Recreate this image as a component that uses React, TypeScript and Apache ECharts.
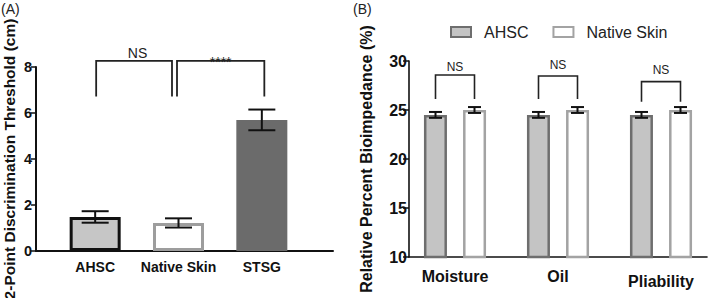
import React, { useEffect, useRef } from 'react';
import * as echarts from 'echarts';

// ---------- Panel A data ----------
const groupsA = ['AHSC', 'Native Skin', 'STSG'];
const meansA = [1.48, 1.22, 5.7];
const semA = [0.25, 0.2, 0.45];
const yMinA = 0;
const yMaxA = 8;
const yStepA = 2;
const bracketFromA = [0, 1];
const bracketToA = [1, 2];
const bracketTopA = [8.27, 8.27];
const bracketBottomA = [6.72, 6.72];
const bracketLabelA = ['NS', '****'];

// ---------- Panel B data ----------
const measuresB = ['Moisture', 'Oil', 'Pliability'];
const ahscB = [24.5, 24.5, 24.5];
const ahscSemB = [0.3, 0.3, 0.3];
const nativeB = [25.0, 25.0, 25.0];
const nativeSemB = [0.3, 0.3, 0.3];
const yMinB = 10;
const yMaxB = 30;
const yStepB = 5;
const bracketTopB = [28.57, 28.47, 27.9];
const bracketBottomB = [26.12, 26.12, 25.85];
const bracketLabelB = ['NS', 'NS', 'NS'];

const FONT = '"Liberation Sans", Arial, Helvetica, sans-serif';

// layout constants (pixels)
const legOffsetA = [
  [1, -6.5],
  [-1.5, 2.5],
];
const labelOffsetA = [
  [3.5, -8],
  [0, 1.5],
];
const labelSizeA = [14, 14];
const barHalfOffsetB = 19.5;

export default function App() {
  const ref = useRef<HTMLDivElement>(null);

  useEffect(() => {
    if (!ref.current) return;
    const chart = echarts.init(ref.current, null, { renderer: 'svg' });

    const errorRender = (offset: number, capHalf: number, lw: number) => (params: any, api: any) => {
      const lo = api.coord([api.value(0), api.value(1)]);
      const hi = api.coord([api.value(0), api.value(2)]);
      const x = lo[0] + offset;
      const st = { stroke: '#111', lineWidth: lw, fill: 'none' };
      return {
        type: 'group',
        children: [
          { type: 'line', shape: { x1: x, y1: lo[1], x2: x, y2: hi[1] }, style: st },
          { type: 'line', shape: { x1: x - capHalf, y1: lo[1], x2: x + capHalf, y2: lo[1] }, style: st },
          { type: 'line', shape: { x1: x - capHalf, y1: hi[1], x2: x + capHalf, y2: hi[1] }, style: st },
        ],
      };
    };

    const bracketRender =
      (labels: string[], legOff: number[][], labOff: number[][], sizes: number[], lw: number) =>
      (params: any, api: any) => {
        const i = params.dataIndex;
        const l = api.coord([api.value(0), api.value(2)]);
        const r = api.coord([api.value(1), api.value(2)]);
        const b = api.coord([api.value(0), api.value(3)]);
        const xl = l[0] + legOff[i][0];
        const xr = r[0] + legOff[i][1];
        const yt = l[1];
        const yb = b[1];
        return {
          type: 'group',
          children: [
            {
              type: 'polyline',
              shape: { points: [[xl, yb], [xl, yt], [xr, yt], [xr, yb]] },
              style: { stroke: '#222', lineWidth: lw, fill: 'none' },
            },
            {
              type: 'text',
              x: (xl + xr) / 2 + labOff[i][0],
              y: yt + labOff[i][1],
              style: {
                text: labels[i],
                fontFamily: FONT,
                fontSize: sizes[i],
                fill: '#222',
                align: 'center',
                verticalAlign: 'middle',
              },
            },
          ],
        };
      };

    const itemStylesA = [
      { color: '#c6c6c6', borderColor: '#111', borderWidth: 3 },
      { color: '#ffffff', borderColor: '#9d9d9d', borderWidth: 3 },
      { color: '#6b6b6b', borderColor: '#6b6b6b', borderWidth: 3 },
    ];

    const legOffsetB = measuresB.map(() => [-barHalfOffsetB, barHalfOffsetB]);
    const labelOffsetB = [
      [0, -8.5],
      [0, -11],
      [0, -12],
    ];
    const labelSizeB = measuresB.map(() => 12);

    const gridBase = { outerBoundsMode: 'none', containLabel: false };

    const option: any = {
      animation: false,
      textStyle: { fontFamily: FONT },
      legend: {
        data: ['AHSC', 'Native Skin'],
        left: 450,
        top: 24,
        padding: 0,
        itemWidth: 20,
        itemHeight: 10,
        itemGap: 24,
        icon: 'rect',
        textStyle: { fontFamily: FONT, fontSize: 16, color: '#222', padding: [0, 0, 0, 8] },
      },
      graphic: [
        { type: 'text', left: 1, top: 2, style: { text: '(A)', fontFamily: FONT, fontSize: 14, fill: '#222' } },
        { type: 'text', left: 353, top: 2, style: { text: '(B)', fontFamily: FONT, fontSize: 14, fill: '#222' } },
      ],
      grid: [
        { ...gridBase, left: 36, top: 67, width: 297, height: 184 },
        { ...gridBase, left: 53.5, top: 67, width: 250, height: 184 },
        { ...gridBase, left: 409, top: 61, width: 298, height: 196 },
        { ...gridBase, left: 403.5, top: 61, width: 309, height: 196 },
      ],
      xAxis: [
        {
          gridIndex: 0,
          type: 'value',
          min: 0,
          max: 1,
          axisLine: { show: true, onZero: false, lineStyle: { color: '#111', width: 2 } },
          axisTick: { show: false },
          axisLabel: { show: false },
          splitLine: { show: false },
        },
        {
          gridIndex: 1,
          type: 'category',
          data: groupsA,
          axisLine: { show: false },
          axisTick: { show: false },
          axisLabel: { interval: 0, margin: 9, fontSize: 14, fontWeight: 'bold', color: '#111', fontFamily: FONT },
        },
        {
          gridIndex: 2,
          type: 'value',
          min: 0,
          max: 1,
          axisLine: { show: true, onZero: false, lineStyle: { color: '#111', width: 1.6 } },
          axisTick: { show: false },
          axisLabel: { show: false },
          splitLine: { show: false },
        },
        {
          gridIndex: 3,
          type: 'category',
          data: measuresB.map((m, i) =>
            i === 2 ? { value: m, textStyle: { padding: [5, 0, 0, 0] } } : m
          ),
          axisLine: { show: false },
          axisTick: { show: false },
          axisLabel: { interval: 0, margin: 11, fontSize: 16, fontWeight: 'bold', color: '#111', fontFamily: FONT },
        },
      ],
      yAxis: [
        {
          gridIndex: 0,
          type: 'value',
          min: yMinA,
          max: yMaxA,
          interval: yStepA,
          name: '2-Point Discrimination Threshold (cm)',
          nameLocation: 'middle',
          nameGap: 19,
          nameTextStyle: { fontSize: 15.5, fontWeight: 'bold', color: '#111', fontFamily: FONT },
          axisLine: { show: true, onZero: false, lineStyle: { color: '#111', width: 2 } },
          axisTick: { show: true, length: 5, lineStyle: { color: '#111', width: 1.5 } },
          axisLabel: { margin: 4, fontSize: 14.5, fontWeight: 'bold', color: '#111', fontFamily: FONT },
          splitLine: { show: false },
        },
        {
          gridIndex: 1,
          type: 'value',
          min: yMinA,
          max: yMaxA,
          show: false,
          splitLine: { show: false },
        },
        {
          gridIndex: 2,
          type: 'value',
          min: yMinB,
          max: yMaxB,
          interval: yStepB,
          name: 'Relative Percent Bioimpedance (%)',
          nameLocation: 'middle',
          nameGap: 35,
          nameTextStyle: { fontSize: 16, fontWeight: 'bold', color: '#111', fontFamily: FONT },
          axisLine: { show: true, onZero: false, lineStyle: { color: '#111', width: 1.6 } },
          axisTick: { show: true, length: 6, lineStyle: { color: '#111', width: 1.5 } },
          axisLabel: { margin: 2, fontSize: 16, fontWeight: 'bold', color: '#111', fontFamily: FONT },
          splitLine: { show: false },
        },
        {
          gridIndex: 3,
          type: 'value',
          min: yMinB,
          max: yMaxB,
          show: false,
          splitLine: { show: false },
        },
      ],
      series: [
        {
          name: 'Two-point',
          type: 'bar',
          xAxisIndex: 1,
          yAxisIndex: 1,
          barWidth: 51,
          data: meansA.map((v, i) => ({ value: v, itemStyle: itemStylesA[i] })),
          z: 2,
        },
        {
          type: 'custom',
          xAxisIndex: 1,
          yAxisIndex: 1,
          encode: { x: 0, y: [1, 2] },
          data: meansA.map((v, i) => [i, v - semA[i], v + semA[i]]),
          renderItem: errorRender(0, 13.5, 2),
          z: 5,
        },
        {
          type: 'custom',
          xAxisIndex: 1,
          yAxisIndex: 1,
          encode: { x: [0, 1], y: [2, 3] },
          data: bracketFromA.map((f, i) => [f, bracketToA[i], bracketTopA[i], bracketBottomA[i]]),
          renderItem: bracketRender(bracketLabelA, legOffsetA, labelOffsetA, labelSizeA, 1.8),
          z: 5,
        },
        {
          name: 'AHSC',
          type: 'bar',
          xAxisIndex: 3,
          yAxisIndex: 3,
          barWidth: 23,
          barGap: '70%',
          itemStyle: { color: '#c4c4c4', borderColor: '#6e6e6e', borderWidth: 2.5 },
          data: ahscB,
          z: 2,
        },
        {
          name: 'Native Skin',
          type: 'bar',
          xAxisIndex: 3,
          yAxisIndex: 3,
          barWidth: 23,
          barGap: '70%',
          itemStyle: { color: '#ffffff', borderColor: '#a3a3a3', borderWidth: 2.5 },
          data: nativeB,
          z: 2,
        },
        {
          type: 'custom',
          xAxisIndex: 3,
          yAxisIndex: 3,
          encode: { x: 0, y: [1, 2] },
          data: ahscB.map((v, i) => [i, v - ahscSemB[i], v + ahscSemB[i]]),
          renderItem: errorRender(-barHalfOffsetB, 6.5, 2),
          z: 5,
        },
        {
          type: 'custom',
          xAxisIndex: 3,
          yAxisIndex: 3,
          encode: { x: 0, y: [1, 2] },
          data: nativeB.map((v, i) => [i, v - nativeSemB[i], v + nativeSemB[i]]),
          renderItem: errorRender(barHalfOffsetB, 6.5, 2),
          z: 5,
        },
        {
          type: 'custom',
          xAxisIndex: 3,
          yAxisIndex: 3,
          encode: { x: [0, 0], y: [2, 3] },
          data: measuresB.map((_, i) => [i, i, bracketTopB[i], bracketBottomB[i]]),
          renderItem: bracketRender(bracketLabelB, legOffsetB, labelOffsetB, labelSizeB, 1.6),
          z: 5,
        },
      ],
    };

    chart.setOption(option);
    return () => chart.dispose();
  }, []);

  return (
    <div
      ref={ref}
      style={{ position: 'fixed', left: 0, top: 0, width: 709, height: 298, background: '#fff' }}
    />
  );
}
